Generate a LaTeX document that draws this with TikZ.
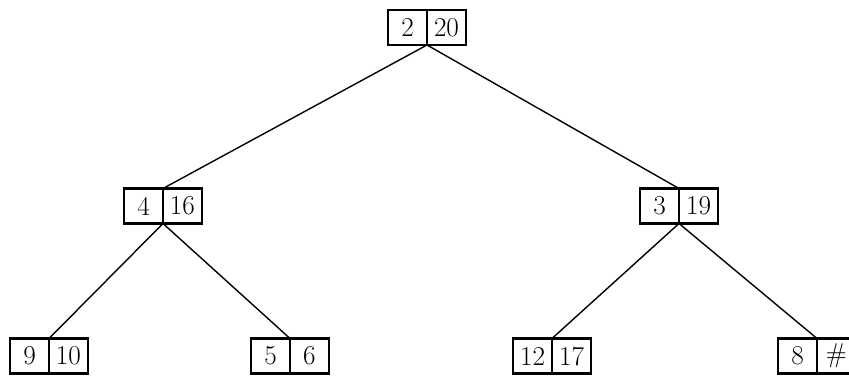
\documentclass[tikz,border=0pt]{standalone}
\usetikzlibrary{positioning}
\begin{document}
\begin{tikzpicture}[
  x=0.02cm,
  y=-0.02cm,
  every node/.style={font=\fontsize{15.5}{18}\selectfont},
  cell/.style={draw=black, line width=1.3pt, outer sep=0pt, inner sep=0pt,
    minimum width=0.78cm, minimum height=0.7cm},
  branch/.style={draw=black, line width=0.8pt}
]
  \useasboundingbox (0,0) rectangle (849,378);

  % root
  \node[cell, anchor=east] (rootkey) at (427,27.5) {2};
  \node[cell, right=0pt of rootkey] (rootval) {20};

  % second level
  \node[cell, anchor=east] (lkey) at (163,206) {4};
  \node[cell, right=0pt of lkey] (lval) {16};
  \node[cell, anchor=east] (rkey) at (679,206) {3};
  \node[cell, right=0pt of rkey] (rval) {19};

  % leaves
  \foreach \name/\x/\k/\v in {llkey/49/9/10, lrkey/290/5/6, rlkey/552/12/17, rrkey/817/8/\#} {
    \node[cell, anchor=east] (\name) at (\x,356) {\k};
    \node[cell, right=0pt of \name] (\name-val) {\v};
  }

  \draw[branch] (rootkey.south east) -- (lkey.north east);
  \draw[branch] (rootkey.south east) -- (rkey.north east);
  \draw[branch] (lkey.south east) -- (llkey.north east);
  \draw[branch] (lkey.south east) -- (lrkey.north east);
  \draw[branch] (rkey.south east) -- (rlkey.north east);
  \draw[branch] (rkey.south east) -- (rrkey.north east);
\end{tikzpicture}
\end{document}
